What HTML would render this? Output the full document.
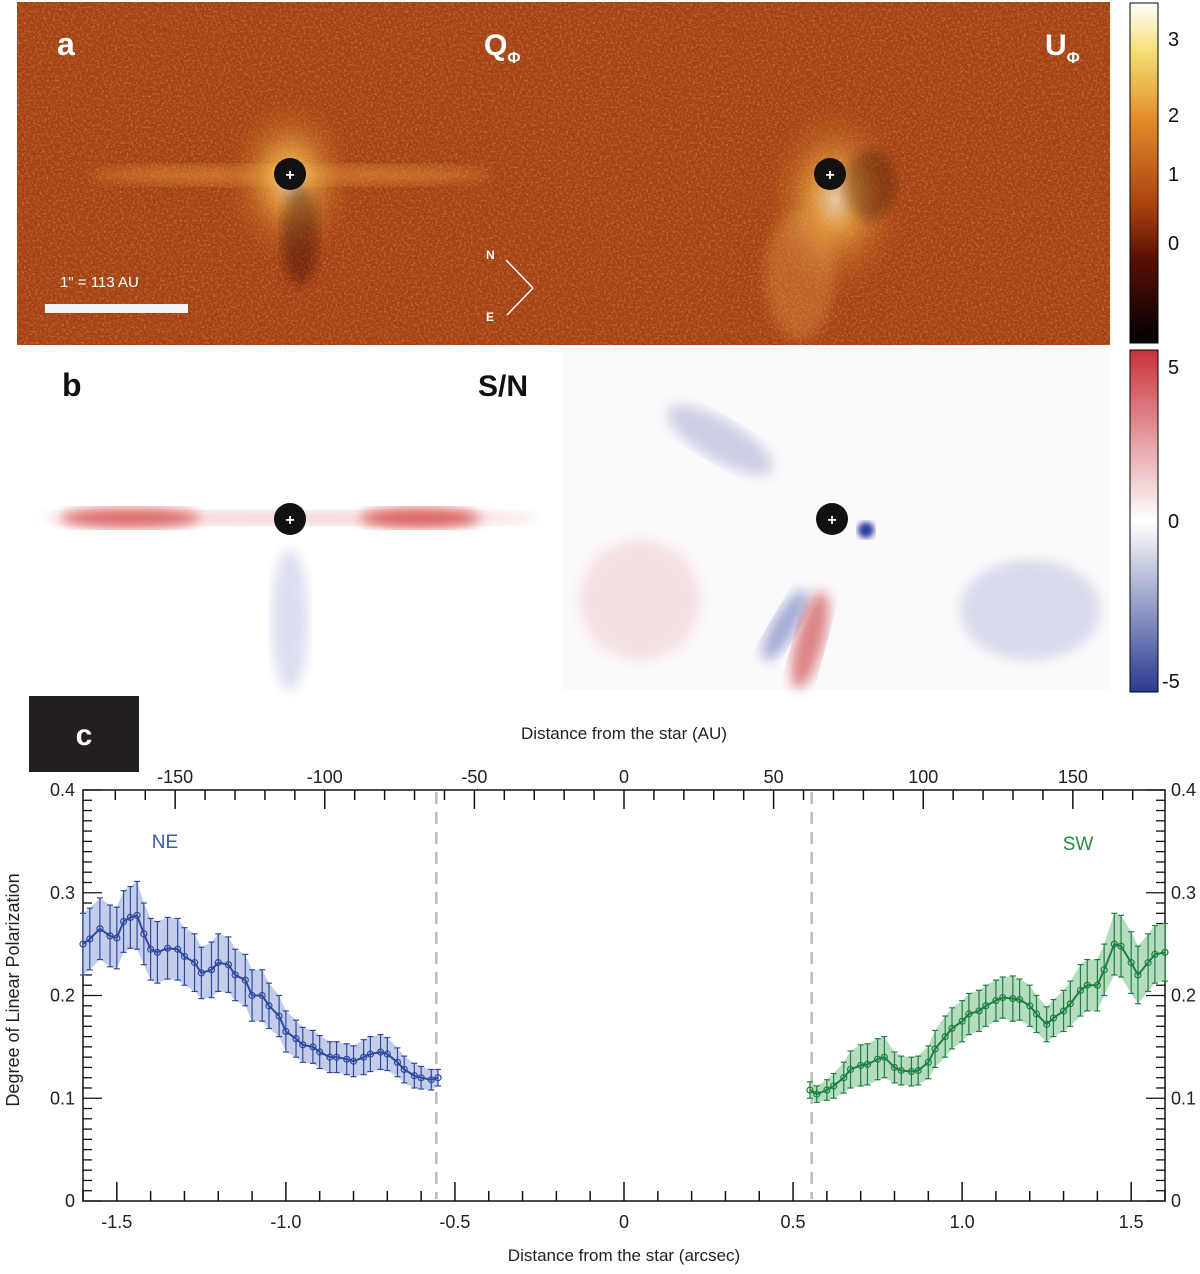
<!DOCTYPE html>
<html><head><meta charset="utf-8"><style>
html,body{margin:0;padding:0;background:#fff;}
body{width:1200px;height:1269px;position:relative;overflow:hidden;font-family:"Liberation Sans",sans-serif;}
svg text{font-family:"Liberation Sans",sans-serif;}
</style></head><body>
<svg id="fig" width="1200" height="1269" viewBox="0 0 1200 1269" xmlns="http://www.w3.org/2000/svg">
<defs>
<filter id="noise" x="0" y="0" width="100%" height="100%">
<feTurbulence type="fractalNoise" baseFrequency="0.5" numOctaves="2" seed="3"/>
<feColorMatrix type="matrix" values="0 0 0 0 0.35  0 0 0 0 0.1  0 0 0 0 0.02  0 0 0 2.2 -0.9"/>
</filter>
<filter id="noise2" x="0" y="0" width="100%" height="100%">
<feTurbulence type="fractalNoise" baseFrequency="0.45" numOctaves="2" seed="8"/>
<feColorMatrix type="matrix" values="0 0 0 0 0.95  0 0 0 0 0.7  0 0 0 0 0.35  0 0 0 2.2 -1.0"/>
</filter>
<filter id="blur6"><feGaussianBlur stdDeviation="6"/></filter>
<filter id="blur3"><feGaussianBlur stdDeviation="3"/></filter>
<radialGradient id="coreQ"><stop offset="0" stop-color="#fffbe0"/><stop offset="0.3" stop-color="#f3b24a"/><stop offset="1" stop-color="#a8400f" stop-opacity="0"/></radialGradient>
<linearGradient id="cbA" x1="0" y1="1" x2="0" y2="0">
<stop offset="0" stop-color="#000"/><stop offset="0.25" stop-color="#5a1005"/><stop offset="0.4" stop-color="#a8400f"/><stop offset="0.65" stop-color="#e08a28"/><stop offset="0.85" stop-color="#f5dc70"/><stop offset="1" stop-color="#fff"/></linearGradient>
<linearGradient id="cbB" x1="0" y1="1" x2="0" y2="0">
<stop offset="0" stop-color="#2a3a8f"/><stop offset="0.5" stop-color="#fff"/><stop offset="1" stop-color="#c8323a"/></linearGradient>
</defs>

<g>
<rect x="17" y="2" width="1093" height="343" fill="#a63d10"/>
<rect x="17" y="2" width="1093" height="343" filter="url(#noise)" opacity="0.7"/>
<rect x="17" y="2" width="1093" height="343" filter="url(#noise2)" opacity="0.35"/>
<ellipse cx="290" cy="175" rx="200" ry="10" fill="#e59a40" opacity="0.55" filter="url(#blur6)"/>
<ellipse cx="290" cy="180" rx="70" ry="90" fill="url(#coreQ)" opacity="0.7"/>
<ellipse cx="300" cy="235" rx="18" ry="50" fill="#200500" opacity="0.35" filter="url(#blur6)"/>
<ellipse cx="835" cy="200" rx="75" ry="105" fill="url(#coreQ)" opacity="0.7"/>
<ellipse cx="800" cy="275" rx="35" ry="65" fill="#e9a050" opacity="0.35" filter="url(#blur6)"/>
<ellipse cx="870" cy="185" rx="25" ry="35" fill="#200500" opacity="0.3" filter="url(#blur6)"/>
<circle cx="290" cy="174" r="16" fill="#111"/><text x="290" y="180" fill="#fff" font-size="16" font-weight="bold" text-anchor="middle">+</text>
<circle cx="830" cy="174" r="16" fill="#111"/><text x="830" y="180" fill="#fff" font-size="16" font-weight="bold" text-anchor="middle">+</text>
<text x="57" y="55" fill="#fff" font-size="32" font-weight="bold">a</text>
<text x="484" y="55" fill="#fff" font-size="30" font-weight="bold">Q<tspan font-size="16" dy="8">Φ</tspan></text>
<text x="1045" y="55" fill="#fff" font-size="30" font-weight="bold">U<tspan font-size="16" dy="8">Φ</tspan></text>
<text x="60" y="287" fill="#fff" font-size="15">1" = 113 AU</text>
<rect x="45" y="304" width="143" height="9" fill="#f4f4f4"/>
<g stroke="#fff" stroke-width="1.5" fill="none">
<path d="M533 288 L506 260 M533 288 L507 315"/>
</g>
<text x="486" y="259" fill="#fff" font-size="12" font-weight="bold">N</text>
<text x="486" y="321" fill="#fff" font-size="12" font-weight="bold">E</text>
</g>

<g>
<rect x="17" y="347" width="546" height="343" fill="#fff"/>
<rect x="563" y="347" width="547" height="343" fill="#fbf9fb"/>
<ellipse cx="130" cy="518" rx="70" ry="10" fill="#d03838" opacity="0.75" filter="url(#blur6)"/>
<ellipse cx="420" cy="518" rx="60" ry="10" fill="#d03838" opacity="0.8" filter="url(#blur6)"/>
<ellipse cx="290" cy="518" rx="250" ry="7" fill="#e07070" opacity="0.3" filter="url(#blur6)"/>
<ellipse cx="290" cy="620" rx="18" ry="70" fill="#8a8fd0" opacity="0.3" filter="url(#blur6)"/>
<ellipse cx="785" cy="625" rx="12" ry="40" fill="#5060b0" opacity="0.5" filter="url(#blur6)" transform="rotate(30 785 625)"/>
<ellipse cx="810" cy="640" rx="14" ry="50" fill="#c83838" opacity="0.6" filter="url(#blur6)" transform="rotate(15 810 640)"/>
<ellipse cx="720" cy="440" rx="60" ry="20" fill="#6070b8" opacity="0.3" filter="url(#blur6)" transform="rotate(30 720 440)"/>
<ellipse cx="1030" cy="610" rx="70" ry="50" fill="#7080c0" opacity="0.25" filter="url(#blur6)"/>
<ellipse cx="640" cy="600" rx="60" ry="60" fill="#e08080" opacity="0.2" filter="url(#blur6)"/>
<circle cx="866" cy="530" r="8" fill="#2a3a9a" filter="url(#blur3)"/>
<circle cx="290" cy="519" r="16" fill="#111"/><text x="290" y="525" fill="#fff" font-size="16" font-weight="bold" text-anchor="middle">+</text>
<circle cx="832" cy="519" r="16" fill="#111"/><text x="832" y="525" fill="#fff" font-size="16" font-weight="bold" text-anchor="middle">+</text>
<text x="62" y="396" fill="#111" font-size="32" font-weight="bold">b</text>
<text x="478" y="396" fill="#111" font-size="30" font-weight="bold">S/N</text>
</g>

<g>
<rect x="1130" y="3" width="28" height="340" fill="url(#cbA)" stroke="#000" stroke-width="1"/>
<g font-size="20" fill="#111">
<text x="1168" y="46">3</text><text x="1168" y="122">2</text><text x="1168" y="181">1</text><text x="1168" y="250">0</text>
</g></g>
<g>
<rect x="1130" y="350" width="28" height="342" fill="url(#cbB)" stroke="#000" stroke-width="1"/>
<g font-size="20" fill="#111">
<text x="1168" y="374">5</text><text x="1168" y="528">0</text><text x="1162" y="688">-5</text>
</g></g>

<g>
<rect x="29" y="696" width="110" height="76" fill="#231f20"/>
<text x="84" y="745" fill="#fff" font-size="30" font-weight="bold" text-anchor="middle">c</text>
</g>
<g id="chart"></g>
</svg>
<script>
const neX=[-1.60,-1.58,-1.55,-1.52,-1.50,-1.48,-1.46,-1.44,-1.42,-1.40,-1.38,-1.35,-1.32,-1.30,-1.27,-1.25,-1.22,-1.20,-1.17,-1.15,-1.12,-1.10,-1.07,-1.05,-1.02,-1.00,-0.97,-0.95,-0.92,-0.90,-0.87,-0.85,-0.82,-0.80,-0.77,-0.75,-0.72,-0.70,-0.67,-0.65,-0.62,-0.60,-0.57,-0.55];
const neY=[0.250,0.255,0.265,0.258,0.256,0.272,0.276,0.278,0.260,0.245,0.242,0.246,0.245,0.238,0.232,0.222,0.225,0.232,0.230,0.220,0.215,0.200,0.200,0.190,0.180,0.165,0.158,0.152,0.150,0.145,0.140,0.140,0.138,0.136,0.140,0.143,0.145,0.143,0.135,0.128,0.122,0.120,0.118,0.120];
const neErr=[0.03,0.03,0.03,0.03,0.03,0.03,0.03,0.033,0.03,0.03,0.03,0.03,0.03,0.028,0.028,0.025,0.027,0.028,0.027,0.025,0.025,0.025,0.025,0.022,0.02,0.02,0.018,0.017,0.016,0.016,0.015,0.015,0.015,0.015,0.017,0.017,0.017,0.016,0.014,0.013,0.012,0.011,0.01,0.008];
const swX=[0.55,0.57,0.60,0.62,0.65,0.67,0.70,0.72,0.75,0.77,0.80,0.82,0.85,0.87,0.90,0.92,0.95,0.97,1.00,1.02,1.05,1.07,1.10,1.12,1.15,1.17,1.20,1.22,1.25,1.27,1.30,1.32,1.35,1.37,1.40,1.42,1.45,1.47,1.50,1.52,1.55,1.57,1.60];
const swY=[0.108,0.104,0.108,0.112,0.120,0.128,0.132,0.133,0.138,0.140,0.130,0.127,0.126,0.127,0.135,0.148,0.160,0.168,0.175,0.182,0.185,0.190,0.195,0.198,0.197,0.196,0.190,0.182,0.172,0.178,0.185,0.192,0.205,0.210,0.210,0.225,0.250,0.248,0.232,0.220,0.232,0.240,0.242];
const swErr=[0.008,0.008,0.01,0.012,0.015,0.018,0.02,0.02,0.02,0.02,0.015,0.014,0.014,0.014,0.016,0.018,0.02,0.02,0.02,0.02,0.02,0.02,0.02,0.02,0.022,0.02,0.02,0.018,0.017,0.018,0.02,0.022,0.025,0.025,0.025,0.025,0.03,0.03,0.03,0.028,0.028,0.028,0.028];
const xTicks=["-1.5","-1.0","-0.5","0","0.5","1.0","1.5"];
const xTickVals=[-1.5,-1.0,-0.5,0,0.5,1.0,1.5];
const auTicks=["-150","-100","-50","0","50","100","150"];
const auTickVals=[-150,-100,-50,0,50,100,150];
const yTicks=["0","0.1","0.2","0.3","0.4"];
const yTickVals=[0,0.1,0.2,0.3,0.4];

const L=83,R=1165,T=790,B=1201;
const sx=v=>L+(v+1.6)/3.2*(R-L);
const sau=v=>sx(v/113);
const sy=v=>B-v/0.4*(B-T);
const NS="http://www.w3.org/2000/svg";
const g=document.getElementById('chart');
function mk(tag,attrs,parent){const e=document.createElementNS(NS,tag);for(const k in attrs)e.setAttribute(k,attrs[k]);(parent||g).appendChild(e);return e;}
function line(x1,y1,x2,y2,st,w,parent){return mk('line',{x1,y1,x2,y2,stroke:st,'stroke-width':w||1.5},parent);}
function txt(x,y,s,size,anchor,fill){const t=mk('text',{x,y,'font-size':size,'text-anchor':anchor||'middle',fill:fill||'#222'});t.textContent=s;return t;}

const frame=mk('rect',{x:L,y:T,width:R-L,height:B-T,fill:'none',stroke:'#111','stroke-width':1.5});


for(let i=-16;i<=16;i++){const v=i/10;const X=sx(v);const major=(i%5===0);line(X,B,X,B-(major?19:10),'#111',1.5);}
for(let a=-170;a<=170;a+=10){const X=sau(a);if(X<L||X>R)continue;line(X,T,X,T+(a%50===0?19:10),'#111',1.5);}
for(let i=0;i<=40;i++){const Y=sy(i/100);const major=(i%10===0);line(L,Y,L+(major?19:9),Y,'#111',1.3);line(R,Y,R-(major?19:9),Y,'#111',1.3);}
xTickVals.forEach((v,i)=>{const t=txt(sx(v),B+27,xTicks[i],18);});
auTickVals.forEach((v,i)=>{const t=txt(sau(v),T-7,auTicks[i],18);});
yTickVals.forEach((v,i)=>{const a=txt(L-8,sy(v)+6,yTicks[i],18,'end');const b=txt(R+6,sy(v)+6,yTicks[i],18,'start');});
const xt=txt(624,1261,'Distance from the star (arcsec)',17);


const at=txt(624,739,'Distance from the star (AU)',17);


const yt=txt(0,0,'Degree of Linear Polarization',18);
yt.setAttribute('transform','translate(19,990) rotate(-90)');


[-0.555,0.555].forEach(v=>{const d=line(sx(v),T+2,sx(v),B-2,'#bbb',2.5);d.setAttribute('stroke-dasharray','12,8');});

function series(xs,ys,es,col,fillc,name){
  const sg=mk('g',{});
  
  
  let up='',dn='';
  xs.forEach((x,i)=>{up+=(i?'L':'M')+sx(x)+' '+sy(ys[i]+es[i]);});
  for(let i=xs.length-1;i>=0;i--)dn+='L'+sx(xs[i])+' '+sy(ys[i]-es[i]);
  mk('path',{d:up+dn+'Z',fill:fillc,stroke:'none'},sg);
  xs.forEach((x,i)=>{
    const X=sx(x),y1=sy(ys[i]+es[i]),y2=sy(ys[i]-es[i]);
    line(X,y1,X,y2,col,1.2,sg);line(X-3,y1,X+3,y1,col,1.2,sg);line(X-3,y2,X+3,y2,col,1.2,sg);
  });
  let p='';xs.forEach((x,i)=>{p+=(i?'L':'M')+sx(x)+' '+sy(ys[i]);});
  mk('path',{d:p,fill:'none',stroke:col,'stroke-width':2},sg);
  xs.forEach((x,i)=>{mk('circle',{cx:sx(x),cy:sy(ys[i]),r:3,fill:'none',stroke:col,'stroke-width':1.2},sg);});
}
series(neX,neY,neErr,'#2e4a9e','#c3cdea','ne-series');
series(swX,swY,swErr,'#1e8040','#b6dcc0','sw-series');
const ne=txt(165,848,'NE',19,'middle','#3b5ba8');


const sw=txt(1078,850,'SW',19,'middle','#2a8a45');


</script>
</body></html>
